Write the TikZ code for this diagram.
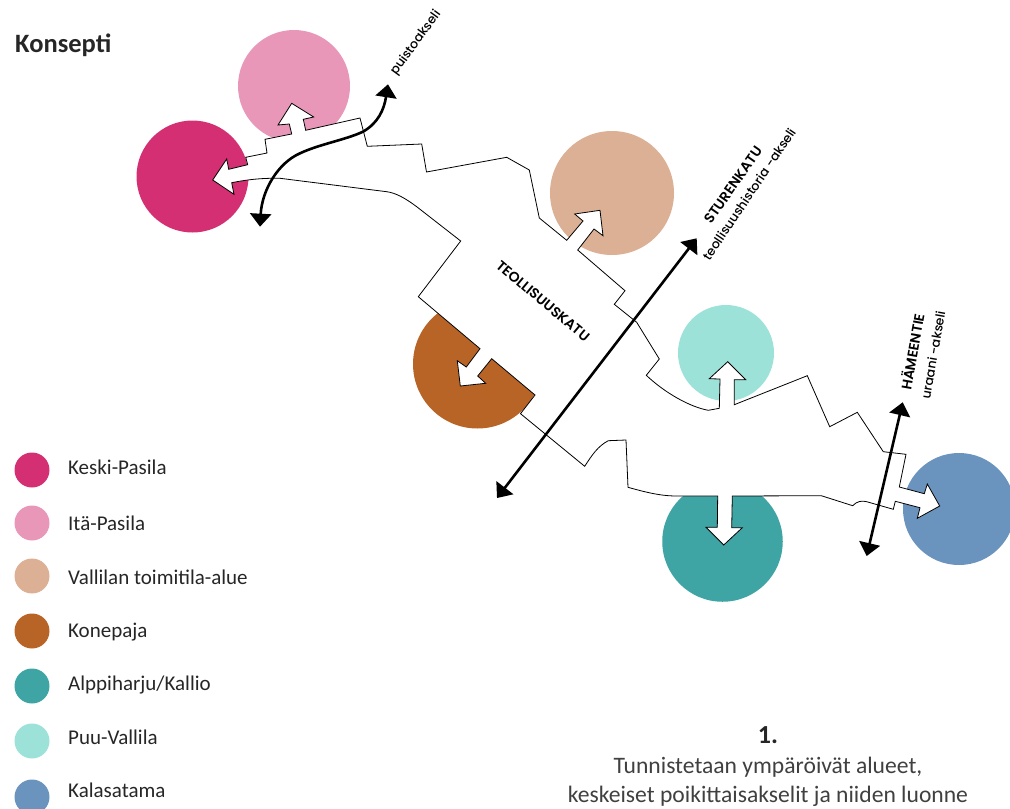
\documentclass[tikz,border=0pt]{standalone}
\usepackage{fontspec}
\setmainfont{Carlito}
\newfontfamily\geo[UprightFont=* Medium]{Poppins}
\newfontfamily\geob[UprightFont=* SemiBold]{Poppins}
\usetikzlibrary{arrows.meta}
\definecolor{ckeski}{HTML}{D32F72}
\definecolor{cita}{HTML}{E897B8}
\definecolor{cvallila}{HTML}{DCB094}
\definecolor{ckone}{HTML}{B96427}
\definecolor{calppi}{HTML}{3EA5A4}
\definecolor{cpuu}{HTML}{9DE2D8}
\definecolor{ckala}{HTML}{6A93BE}
\tikzset{
  x=1pt,y=-1pt,
  blob/.style={circle,inner sep=0pt,minimum size=#1,draw=none},
  legdot/.style={circle,inner sep=0pt,minimum size=35pt,draw=none},
  legtxt/.style={anchor=base west,inner sep=0pt,font=\fontsize{21}{23}\selectfont,text=black!85},
  captxt/.style={anchor=base,inner sep=0pt,font=\fontsize{23.6}{26}\selectfont,text=black!75},
  axisline/.style={line width=2.6pt,black,{Triangle[length=13pt,width=21pt]}-{Triangle[length=13pt,width=21pt]}},
  axistxt/.style={inner sep=0pt,font=\geob\fontsize{14}{16}\selectfont},
  axissmall/.style={inner sep=0pt,font=\geo\fontsize{12.6}{15}\selectfont}
}
\begin{document}
\begin{tikzpicture}
\useasboundingbox (0,0) rectangle (1010,809);
\node[blob=112pt,fill=ckeski] (keski) at (192.5,176.5) {};
\node[blob=112pt,fill=cita] (ita) at (294,86) {};
\node[blob=124pt,fill=cvallila] (vallila) at (612,193) {};
\node[blob=129pt,fill=ckone] (kone) at (477.5,364) {};
\node[blob=120.5pt,fill=calppi] (alppi) at (722.5,541.5) {};
\node[blob=96pt,fill=cpuu] (puu) at (726,353) {};
\node[blob=112pt,fill=ckala] (kala) at (959,509) {};
% white street shape
\draw[fill=white,draw=black,line width=0.8pt,line join=miter]
 (212.7,180) -- (226.7,159) -- (228.7,169.3) -- (247.7,164.7) -- (245.7,157.3) -- (267,153) -- (265,139.3)
 -- (291.7,134) -- (289.3,124) -- (278,125) -- (291.7,103.3) -- (313.7,117) -- (303.3,119.3) -- (305.7,130.3)
 -- (360,118) -- (367.3,146.3) -- (421.7,144) -- (426.5,172) -- (506.7,157.3) -- (529.3,170) -- (539.3,218)
 -- (566.7,240.3) -- (583,221) -- (574.7,214) -- (600,210.3) -- (603,235.7) -- (594,229) -- (577.7,250)
 -- (625,290.7) -- (614.3,304.3) -- (636.7,322.3) -- (659.3,359) -- (646.3,375.3)
 .. controls (665,393) and (690,407) .. (708.3,410.3) -- (719.3,408.3) -- (720,379) -- (709.3,378.7)
 -- (727.7,361.7) -- (745.7,379.7) -- (734.3,379.7) -- (734.3,404.7) -- (807.3,375.7) -- (829.7,426.7)
 -- (857.3,412.3) -- (883.3,451.7) -- (906,454.3) -- (899.3,487) -- (924.3,493.7) -- (927.3,484)
 -- (939.7,506) -- (917.3,518.3) -- (920,507.7) -- (895.3,501.3) -- (893.3,509.3) -- (866.7,501.7)
 .. controls (862,500.5) and (857,501) .. (852.7,505.7) -- (821.3,495.7) -- (732.3,496) -- (731.7,527.7)
 -- (742.3,527.7) -- (723.7,545) -- (706,527.3) -- (717.3,527.3) -- (717.7,496) -- (676.7,496)
 .. controls (660,496) and (645,492) .. (628,487.3) -- (626,440) -- (608.3,440.7)
 .. controls (598,446) and (592,455) .. (584.7,466.3) -- (520.5,413.7) -- (535,395) -- (491.7,358.7)
 -- (477.7,376) -- (485.7,383.3) -- (460.3,386) -- (457.3,360.7) -- (466.3,367) -- (480,348.7)
 -- (418.3,296.7) -- (460.7,241) -- (416.7,206.7) .. controls (405,198) and (396,193) .. (386.7,191.7)
 -- (280,178.3) .. controls (265,178) and (250,179) .. (231.7,182.7) -- (234,194.3) -- cycle;
% axes
\coordinate (pA) at (260,226.7);
\coordinate (pB) at (388,84.3);
\coordinate (sA) at (497,498);
\coordinate (sB) at (696.7,238.3);
\coordinate (hA) at (866.7,556);
\coordinate (hB) at (902.7,402.3);
\draw[axisline] (pA) .. controls (262,190) and (278,163) .. (300,153.3)
  .. controls (320,144) and (345,140) .. (363,131.7) .. controls (378,123) and (384,110) .. (pB);
\draw[axisline] (sA) -- (sB);
\draw[axisline] (hA) -- (hB);
% labels
\node[axissmall,rotate=54] (tpuisto) at (416,43) {puistoakseli};
\node[axistxt,rotate=55] (tsture) at (733,185) {STURENKATU};
\node[axissmall,rotate=56] (thist) at (749,194) {teollisuushistoria -akseli};
\node[axistxt,rotate=80] (thame) at (911.7,351.7) {HÄMEENTIE};
\node[axissmall,rotate=80] (turaani) at (933,355) {uraani -akseli};
\node[axistxt,rotate=-40] (tteol) at (543,301) {TEOLLISUUSKATU};
\node[anchor=base west,inner sep=0pt,font=\bfseries\fontsize{26.5}{28}\selectfont,text=black!85] (title) at (15,52) {Konsepti};
% legend
\node[legdot,fill=ckeski] (l1) at (32,470) {};
\node[legdot,fill=cita] (l2) at (32,523) {};
\node[legdot,fill=cvallila] (l3) at (32,576) {};
\node[legdot,fill=ckone] (l4) at (32,631) {};
\node[legdot,fill=calppi] (l5) at (32,686) {};
\node[legdot,fill=cpuu] (l6) at (32,741) {};
\node[legdot,fill=ckala] (l7) at (32,797) {};
\node[legtxt] (t1) at (68,474) {Keski-Pasila};
\node[legtxt] (t2) at (68,530) {Itä-Pasila};
\node[legtxt] (t3) at (68,584) {Vallilan toimitila-alue};
\node[legtxt] (t4) at (68,637) {Konepaja};
\node[legtxt] (t5) at (68,690) {Alppiharju/Kallio};
\node[legtxt] (t6) at (68,744) {Puu-Vallila};
\node[legtxt] (t7) at (68,797) {Kalasatama};
% caption
\node[anchor=base,inner sep=0pt,font=\bfseries\fontsize{26}{28}\selectfont,text=black!85] (c1) at (768,743) {1.};
\node[captxt] (c2) at (768,773.5) {Tunnistetaan ympäröivät alueet,};
\node[captxt] (c3) at (768,802.5) {keskeiset poikittaisakselit ja niiden luonne};
\end{tikzpicture}
\end{document}
